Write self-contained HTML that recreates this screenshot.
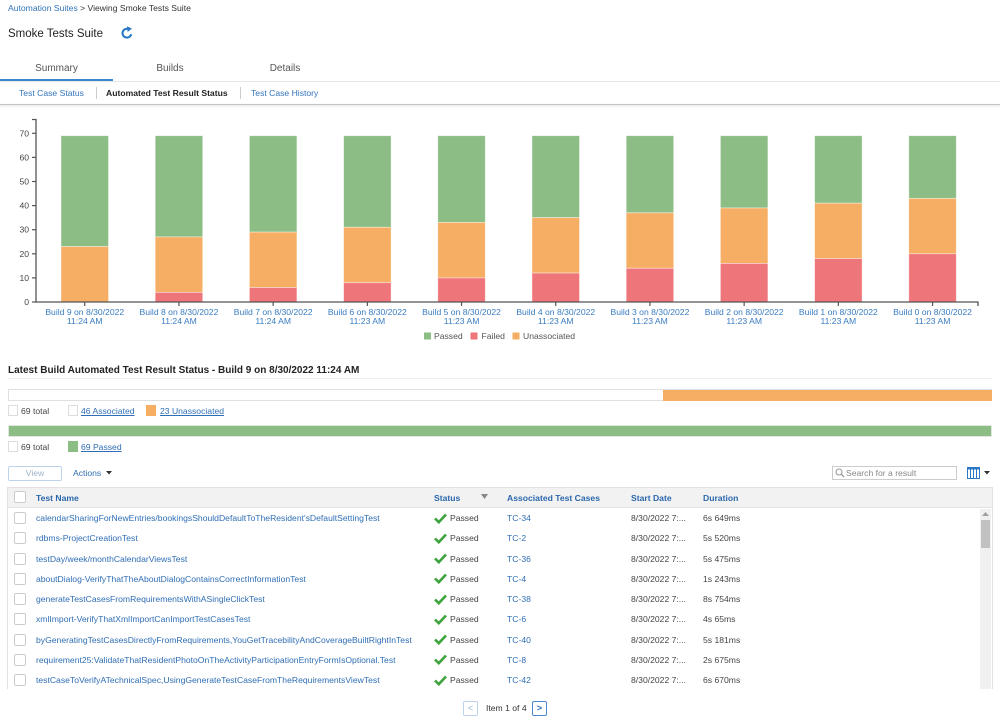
<!DOCTYPE html>
<html><head><meta charset="utf-8">
<style>
*{box-sizing:border-box;margin:0;padding:0}
html,body{width:1000px;height:719px;overflow:hidden;background:#fff}
body{position:relative;font-family:"Liberation Sans",Arial,sans-serif;font-size:8.6px;color:#333}
.t{position:absolute;white-space:nowrap;line-height:12px;height:12px}
.b{color:#3274bb}
.hd{font-weight:bold;color:#2a67ad}
.lnk{color:#2f6eb5;text-decoration:underline}
.cb{position:absolute;width:12px;height:12px;border:1px solid #ccc;border-radius:2px;background:#fff}
.sq{position:absolute;width:10px;height:11px;border:1px solid #ddd;background:#fff}
</style></head><body>

<!-- header -->
<div class="t" style="left:8px;top:2px"><span class="b">Automation Suites</span> &gt; Viewing Smoke Tests Suite</div>
<div class="t" style="left:8px;top:27px;font-size:11.5px;line-height:14px;height:14px;color:#222">Smoke Tests Suite</div>
<svg style="position:absolute;left:120px;top:26px" width="14" height="14" viewBox="0 0 14 14">
<path d="M11.2,8.2 A4.4,4.4 0 1 1 8.6,3.1" stroke="#2878c8" stroke-width="2.1" fill="none"/>
<polygon points="7,0.3 12,2.6 7.6,6" fill="#2878c8"/>
</svg>

<div class="t" style="left:0;top:63px;width:113px;text-align:center;font-size:10px;color:#555">Summary</div>
<div class="t" style="left:113px;top:63px;width:114px;text-align:center;font-size:10px;color:#555">Builds</div>
<div class="t" style="left:228px;top:63px;width:114px;text-align:center;font-size:10px;color:#555">Details</div>
<div style="position:absolute;left:0;top:81px;width:1000px;height:1px;background:#e8e8e8"></div>
<div style="position:absolute;left:0;top:79px;width:113px;height:2px;background:#3b86cf"></div>

<div class="t b" style="left:19px;top:87px">Test Case Status</div>
<div style="position:absolute;left:96px;top:87px;width:1px;height:12px;background:#ccc"></div>
<div class="t" style="left:106px;top:87px;font-weight:bold;color:#222">Automated Test Result Status</div>
<div style="position:absolute;left:240px;top:87px;width:1px;height:12px;background:#ccc"></div>
<div class="t b" style="left:251px;top:87px">Test Case History</div>
<div style="position:absolute;left:0;top:104px;width:1000px;height:1px;background:#c4c4c4;box-shadow:0 1px 2px rgba(0,0,0,.18)"></div>

<!-- chart -->
<svg style="position:absolute;left:0;top:0" width="1000" height="360" viewBox="0 0 1000 360" font-family="Liberation Sans, Arial, sans-serif" font-size="8.6">
<g fill="#444" text-anchor="end">
<text x="29" y="305">0</text><text x="29" y="280.9">10</text><text x="29" y="256.8">20</text><text x="29" y="232.7">30</text>
<text x="29" y="208.6">40</text><text x="29" y="184.5">50</text><text x="29" y="160.4">60</text><text x="29" y="136.3">70</text>
</g>
<g stroke="#555" stroke-width="1.2">
<line x1="32" y1="302" x2="36" y2="302"/><line x1="32" y1="277.9" x2="36" y2="277.9"/><line x1="32" y1="253.8" x2="36" y2="253.8"/>
<line x1="32" y1="229.7" x2="36" y2="229.7"/><line x1="32" y1="205.6" x2="36" y2="205.6"/><line x1="32" y1="181.5" x2="36" y2="181.5"/>
<line x1="32" y1="157.4" x2="36" y2="157.4"/><line x1="32" y1="133.3" x2="36" y2="133.3"/>
</g>
<g stroke="#fff" stroke-opacity="0.5" stroke-width="0.8">
<g fill="#8cbd85">
<rect x="61" y="135.71" width="47.5" height="110.86"/>
<rect x="155.2" y="135.71" width="47.5" height="101.22"/>
<rect x="249.4" y="135.71" width="47.5" height="96.4"/>
<rect x="343.6" y="135.71" width="47.5" height="91.58"/>
<rect x="437.8" y="135.71" width="47.5" height="86.76"/>
<rect x="532" y="135.71" width="47.5" height="81.94"/>
<rect x="626.2" y="135.71" width="47.5" height="77.12"/>
<rect x="720.4" y="135.71" width="47.5" height="72.3"/>
<rect x="814.6" y="135.71" width="47.5" height="67.48"/>
<rect x="908.8" y="135.71" width="47.5" height="62.66"/>
</g>
<g fill="#f5ae63">
<rect x="61" y="246.57" width="47.5" height="55.43"/>
<rect x="155.2" y="236.93" width="47.5" height="55.43"/>
<rect x="249.4" y="232.11" width="47.5" height="55.43"/>
<rect x="343.6" y="227.29" width="47.5" height="55.43"/>
<rect x="437.8" y="222.47" width="47.5" height="55.43"/>
<rect x="532" y="217.65" width="47.5" height="55.43"/>
<rect x="626.2" y="212.83" width="47.5" height="55.43"/>
<rect x="720.4" y="208.01" width="47.5" height="55.43"/>
<rect x="814.6" y="203.19" width="47.5" height="55.43"/>
<rect x="908.8" y="198.37" width="47.5" height="55.43"/>
</g>
<g fill="#ee757a">
<rect x="155.2" y="292.36" width="47.5" height="9.64"/>
<rect x="249.4" y="287.54" width="47.5" height="14.46"/>
<rect x="343.6" y="282.72" width="47.5" height="19.28"/>
<rect x="437.8" y="277.9" width="47.5" height="24.1"/>
<rect x="532" y="273.08" width="47.5" height="28.92"/>
<rect x="626.2" y="268.26" width="47.5" height="33.74"/>
<rect x="720.4" y="263.44" width="47.5" height="38.56"/>
<rect x="814.6" y="258.62" width="47.5" height="43.38"/>
<rect x="908.8" y="253.8" width="47.5" height="48.2"/>
</g>
</g>
<path d="M32,119.5 H36 V302 H978 V306" stroke="#555" stroke-width="1.3" fill="none"/>
<g stroke="#555" stroke-width="1.2">
<line x1="84.75" y1="302" x2="84.75" y2="306"/><line x1="178.95" y1="302" x2="178.95" y2="306"/>
<line x1="273.15" y1="302" x2="273.15" y2="306"/><line x1="367.35" y1="302" x2="367.35" y2="306"/>
<line x1="461.55" y1="302" x2="461.55" y2="306"/><line x1="555.75" y1="302" x2="555.75" y2="306"/>
<line x1="649.95" y1="302" x2="649.95" y2="306"/><line x1="744.15" y1="302" x2="744.15" y2="306"/>
<line x1="838.35" y1="302" x2="838.35" y2="306"/><line x1="932.55" y1="302" x2="932.55" y2="306"/>
</g>
<g fill="#3a7cc0" text-anchor="middle">
<text x="84.75" y="315">Build 9 on 8/30/2022</text><text x="84.75" y="324">11:24 AM</text>
<text x="178.95" y="315">Build 8 on 8/30/2022</text><text x="178.95" y="324">11:24 AM</text>
<text x="273.15" y="315">Build 7 on 8/30/2022</text><text x="273.15" y="324">11:24 AM</text>
<text x="367.35" y="315">Build 6 on 8/30/2022</text><text x="367.35" y="324">11:23 AM</text>
<text x="461.55" y="315">Build 5 on 8/30/2022</text><text x="461.55" y="324">11:23 AM</text>
<text x="555.75" y="315">Build 4 on 8/30/2022</text><text x="555.75" y="324">11:23 AM</text>
<text x="649.95" y="315">Build 3 on 8/30/2022</text><text x="649.95" y="324">11:23 AM</text>
<text x="744.15" y="315">Build 2 on 8/30/2022</text><text x="744.15" y="324">11:23 AM</text>
<text x="838.35" y="315">Build 1 on 8/30/2022</text><text x="838.35" y="324">11:23 AM</text>
<text x="932.55" y="315">Build 0 on 8/30/2022</text><text x="932.55" y="324">11:23 AM</text>
</g>
<rect x="424" y="332.5" width="7" height="7" fill="#8cbd85"/>
<text x="434" y="339" fill="#555">Passed</text>
<rect x="470.5" y="332.5" width="7" height="7" fill="#ee757a"/>
<text x="481.5" y="339" fill="#555">Failed</text>
<rect x="512.5" y="332.5" width="7" height="7" fill="#f5ae63"/>
<text x="523" y="339" fill="#555">Unassociated</text>
</svg>

<!-- latest build section -->
<div class="t" style="left:8px;top:364px;font-size:10px;line-height:13px;height:13px;font-weight:bold;color:#222">Latest Build Automated Test Result Status - Build 9 on 8/30/2022 11:24 AM</div>
<div style="position:absolute;left:8px;top:378px;width:984px;height:1px;background:#eee"></div>

<div style="position:absolute;left:8px;top:389px;width:984px;height:12px;border:1px solid #e0e0e0;background:#fff"></div>
<div style="position:absolute;left:663px;top:390px;width:329px;height:11px;background:#f5ae63"></div>
<div class="sq" style="left:8px;top:405px"></div>
<div class="t" style="left:21px;top:404.5px;color:#444">69 total</div>
<div class="sq" style="left:68px;top:405px"></div>
<div class="t lnk" style="left:81px;top:404.5px">46 Associated</div>
<div class="sq" style="left:146px;top:405px;background:#f5ae63;border-color:#f5ae63"></div>
<div class="t lnk" style="left:160px;top:404.5px">23 Unassociated</div>

<div style="position:absolute;left:8px;top:425px;width:984px;height:12px;border:1px solid #dfe8dd;background:#8cbd85"></div>
<div class="sq" style="left:8px;top:441px"></div>
<div class="t" style="left:21px;top:440.5px;color:#444">69 total</div>
<div class="sq" style="left:68px;top:441px;background:#8cbd85;border-color:#8cbd85"></div>
<div class="t lnk" style="left:81px;top:440.5px">69 Passed</div>

<!-- toolbar -->
<div style="position:absolute;left:8px;top:466px;width:54px;height:15px;border:1px solid #bcd3ea;border-radius:2px;text-align:center;line-height:13px;color:#9db3cb">View</div>
<div class="t" style="left:73px;top:467px;color:#2f6fb5">Actions</div>
<svg style="position:absolute;left:106px;top:471px" width="6" height="4"><polygon points="0,0 6,0 3,3.5" fill="#333"/></svg>

<div style="position:absolute;left:832px;top:466px;width:125px;height:14px;border:1px solid #ccc;background:#fff"></div>
<svg style="position:absolute;left:835px;top:468px" width="10" height="10"><circle cx="4" cy="4" r="3" stroke="#999" stroke-width="1.1" fill="none"/><line x1="6.2" y1="6.2" x2="9" y2="9" stroke="#999" stroke-width="1.3"/></svg>
<div class="t" style="left:846px;top:467px;color:#888">Search for a result</div>
<svg style="position:absolute;left:967px;top:467px" width="13" height="12"><rect x="0.5" y="0.5" width="12" height="11" fill="#fff" stroke="#2b78c5"/><rect x="0" y="0" width="13" height="2.5" fill="#2b78c5"/><line x1="3.5" y1="2" x2="3.5" y2="12" stroke="#2b78c5"/><line x1="6.5" y1="2" x2="6.5" y2="12" stroke="#2b78c5"/><line x1="9.5" y1="2" x2="9.5" y2="12" stroke="#2b78c5"/></svg>
<svg style="position:absolute;left:984px;top:471px" width="6" height="4"><polygon points="0,0 6,0 3,3.5" fill="#333"/></svg>

<!-- table -->
<div style="position:absolute;left:7px;top:487px;width:986px;height:202px;border:1px solid #e2e2e2;border-bottom:none"></div>
<div style="position:absolute;left:8px;top:488px;width:984px;height:20px;background:#f2f2f2;border-bottom:1px solid #e2e2e2"></div>
<div class="cb" style="left:14px;top:491px"></div>
<div class="t hd" style="left:36px;top:491.5px">Test Name</div>
<div class="t hd" style="left:434px;top:491.5px">Status</div>
<svg style="position:absolute;left:481px;top:494px" width="7" height="6"><polygon points="0,0 7,0 3.5,5" fill="#888"/></svg>
<div class="t hd" style="left:507px;top:491.5px">Associated Test Cases</div>
<div class="t hd" style="left:631px;top:491.5px">Start Date</div>
<div class="t hd" style="left:703px;top:491.5px">Duration</div>

<!-- rows -->
<div class="cb" style="left:14px;top:512px"></div>
<div class="t" style="left:36px;top:512px;color:#2f6eb5">calendarSharingForNewEntries/bookingsShouldDefaultToTheResident'sDefaultSettingTest</div>
<svg style="position:absolute;left:434px;top:512.5px" width="13" height="11"><path d="M1,5.5 L4.8,9.2 L12,1.5" stroke="#3da33d" stroke-width="2.6" fill="none"/></svg>
<div class="t" style="left:450px;top:512px;color:#444">Passed</div>
<div class="t" style="left:507px;top:512px;color:#2f6eb5">TC-34</div>
<div class="t" style="left:631px;top:512px;color:#444">8/30/2022 7:...</div>
<div class="t" style="left:703px;top:512px;color:#444">6s 649ms</div>

<div class="cb" style="left:14px;top:532.3px"></div>
<div class="t" style="left:36px;top:532.3px;color:#2f6eb5">rdbms-ProjectCreationTest</div>
<svg style="position:absolute;left:434px;top:532.8px" width="13" height="11"><path d="M1,5.5 L4.8,9.2 L12,1.5" stroke="#3da33d" stroke-width="2.6" fill="none"/></svg>
<div class="t" style="left:450px;top:532.3px;color:#444">Passed</div>
<div class="t" style="left:507px;top:532.3px;color:#2f6eb5">TC-2</div>
<div class="t" style="left:631px;top:532.3px;color:#444">8/30/2022 7:...</div>
<div class="t" style="left:703px;top:532.3px;color:#444">5s 520ms</div>

<div class="cb" style="left:14px;top:552.5px"></div>
<div class="t" style="left:36px;top:552.5px;color:#2f6eb5">testDay/week/monthCalendarViewsTest</div>
<svg style="position:absolute;left:434px;top:553px" width="13" height="11"><path d="M1,5.5 L4.8,9.2 L12,1.5" stroke="#3da33d" stroke-width="2.6" fill="none"/></svg>
<div class="t" style="left:450px;top:552.5px;color:#444">Passed</div>
<div class="t" style="left:507px;top:552.5px;color:#2f6eb5">TC-36</div>
<div class="t" style="left:631px;top:552.5px;color:#444">8/30/2022 7:...</div>
<div class="t" style="left:703px;top:552.5px;color:#444">5s 475ms</div>

<div class="cb" style="left:14px;top:572.8px"></div>
<div class="t" style="left:36px;top:572.8px;color:#2f6eb5">aboutDialog-VerifyThatTheAboutDialogContainsCorrectInformationTest</div>
<svg style="position:absolute;left:434px;top:573.3px" width="13" height="11"><path d="M1,5.5 L4.8,9.2 L12,1.5" stroke="#3da33d" stroke-width="2.6" fill="none"/></svg>
<div class="t" style="left:450px;top:572.8px;color:#444">Passed</div>
<div class="t" style="left:507px;top:572.8px;color:#2f6eb5">TC-4</div>
<div class="t" style="left:631px;top:572.8px;color:#444">8/30/2022 7:...</div>
<div class="t" style="left:703px;top:572.8px;color:#444">1s 243ms</div>

<div class="cb" style="left:14px;top:593px"></div>
<div class="t" style="left:36px;top:593px;color:#2f6eb5">generateTestCasesFromRequirementsWithASingleClickTest</div>
<svg style="position:absolute;left:434px;top:593.5px" width="13" height="11"><path d="M1,5.5 L4.8,9.2 L12,1.5" stroke="#3da33d" stroke-width="2.6" fill="none"/></svg>
<div class="t" style="left:450px;top:593px;color:#444">Passed</div>
<div class="t" style="left:507px;top:593px;color:#2f6eb5">TC-38</div>
<div class="t" style="left:631px;top:593px;color:#444">8/30/2022 7:...</div>
<div class="t" style="left:703px;top:593px;color:#444">8s 754ms</div>

<div class="cb" style="left:14px;top:613.3px"></div>
<div class="t" style="left:36px;top:613.3px;color:#2f6eb5">xmlImport-VerifyThatXmlImportCanImportTestCasesTest</div>
<svg style="position:absolute;left:434px;top:613.8px" width="13" height="11"><path d="M1,5.5 L4.8,9.2 L12,1.5" stroke="#3da33d" stroke-width="2.6" fill="none"/></svg>
<div class="t" style="left:450px;top:613.3px;color:#444">Passed</div>
<div class="t" style="left:507px;top:613.3px;color:#2f6eb5">TC-6</div>
<div class="t" style="left:631px;top:613.3px;color:#444">8/30/2022 7:...</div>
<div class="t" style="left:703px;top:613.3px;color:#444">4s 65ms</div>

<div class="cb" style="left:14px;top:633.5px"></div>
<div class="t" style="left:36px;top:633.5px;color:#2f6eb5">byGeneratingTestCasesDirectlyFromRequirements,YouGetTracebilityAndCoverageBuiltRightInTest</div>
<svg style="position:absolute;left:434px;top:634px" width="13" height="11"><path d="M1,5.5 L4.8,9.2 L12,1.5" stroke="#3da33d" stroke-width="2.6" fill="none"/></svg>
<div class="t" style="left:450px;top:633.5px;color:#444">Passed</div>
<div class="t" style="left:507px;top:633.5px;color:#2f6eb5">TC-40</div>
<div class="t" style="left:631px;top:633.5px;color:#444">8/30/2022 7:...</div>
<div class="t" style="left:703px;top:633.5px;color:#444">5s 181ms</div>

<div class="cb" style="left:14px;top:653.8px"></div>
<div class="t" style="left:36px;top:653.8px;color:#2f6eb5">requirement25:ValidateThatResidentPhotoOnTheActivityParticipationEntryFormIsOptional.Test</div>
<svg style="position:absolute;left:434px;top:654.3px" width="13" height="11"><path d="M1,5.5 L4.8,9.2 L12,1.5" stroke="#3da33d" stroke-width="2.6" fill="none"/></svg>
<div class="t" style="left:450px;top:653.8px;color:#444">Passed</div>
<div class="t" style="left:507px;top:653.8px;color:#2f6eb5">TC-8</div>
<div class="t" style="left:631px;top:653.8px;color:#444">8/30/2022 7:...</div>
<div class="t" style="left:703px;top:653.8px;color:#444">2s 675ms</div>

<div class="cb" style="left:14px;top:674px"></div>
<div class="t" style="left:36px;top:674px;color:#2f6eb5">testCaseToVerifyATechnicalSpec,UsingGenerateTestCaseFromTheRequirementsViewTest</div>
<svg style="position:absolute;left:434px;top:674.5px" width="13" height="11"><path d="M1,5.5 L4.8,9.2 L12,1.5" stroke="#3da33d" stroke-width="2.6" fill="none"/></svg>
<div class="t" style="left:450px;top:674px;color:#444">Passed</div>
<div class="t" style="left:507px;top:674px;color:#2f6eb5">TC-42</div>
<div class="t" style="left:631px;top:674px;color:#444">8/30/2022 7:...</div>
<div class="t" style="left:703px;top:674px;color:#444">6s 670ms</div>

<!-- scrollbar -->
<div style="position:absolute;left:980px;top:509px;width:11px;height:180px;background:#f0f0f0"></div>
<svg style="position:absolute;left:982px;top:512px" width="7" height="5"><polygon points="3.5,0 7,4 0,4" fill="#a0a0a0"/></svg>
<div style="position:absolute;left:981px;top:520px;width:9px;height:28px;background:#c1c1c1"></div>

<!-- pagination -->
<div style="position:absolute;left:463px;top:701px;width:15px;height:15px;border:1px solid #bcd3ea;border-radius:2px;text-align:center;line-height:13px;color:#9bb5d3;font-size:9px">&lt;</div>
<div class="t" style="left:486px;top:702px;color:#333">Item 1 of 4</div>
<div style="position:absolute;left:532px;top:701px;width:15px;height:15px;border:1px solid #4a8ad0;border-radius:2px;text-align:center;line-height:13px;color:#2f6fb5;font-weight:bold;font-size:9px">&gt;</div>

</body></html>
